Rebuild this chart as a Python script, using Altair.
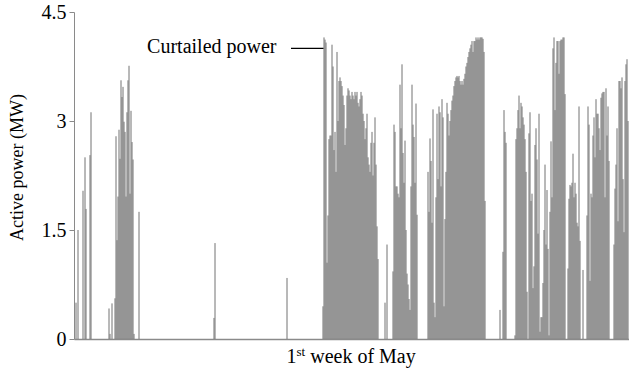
import altair as alt
import pandas as pd

# ---- data: active power readings (MW) over the 1st week of May ----
# each run of readings starts at a time-step index; zero = no production
run_starts = [2, 35, 140, 213, 249, 311, 319, 354, 426, 441, 494, 540]

run_a = [0.5, 0, 1.5, 0, 0, 0, 0, 2.04, 0, 2.5, 1.79, 0, 0, 0, 2.53, 3.12]
run_b = [0.42, 0.07, 0, 0.49, 0, 0, 0.56, 2.79, 1.36, 1.96, 2.88, 2.48, 3.56, 3.33,
         3.47, 2.99, 2.85, 1.96, 3.12, 3.56, 3.76, 2.0, 3.14, 2.71, 2.47, 0.07,
         0, 0, 0, 0, 1.75]
run_c = [0.29, 1.32]
run_d = [0.84]
run_e = [0.45, 4.15, 4.12, 4.08, 1.05, 1.7, 2.75, 2.8, 2.8, 4.05, 3.75, 2.6, 2.85,
         2.3, 3.95, 3.0, 3.55, 3.6, 3.55, 3.48, 3.35, 3.22, 2.67, 2.9, 3.35, 3.45,
         3.42, 3.35, 3.3, 3.4, 3.35, 3.3, 3.4, 3.35, 3.4, 3.25, 3.2, 3.3, 3.4, 3.35,
         3.1, 3.0, 2.75, 2.9, 3.1, 2.5, 2.4, 2.3, 2.7, 2.85, 2.25, 2.7, 3.05, 2.4,
         1.55, 1.1]
run_f = [0.5, 0, 1.3]
run_g = [0.93, 2.95, 2.85, 2.1, 2.1, 2.0, 1.95, 3.5, 2.9, 3.78, 2.56, 2.15, 2.73,
         1.5, 0.9, 0.75, 0.55, 0.4, 2.1, 3.5, 2.95, 2.78, 2.15, 3.24, 1.71]
run_h = [2.3, 1.75, 2.76, 2.45, 1.6, 3.16, 0.5, 0.3, 1.95, 3.1, 2.2, 3.2, 3.12, 2.1,
         3.3, 3.05, 0.45, 1.65, 2.3, 3.25, 3.1, 2.8, 3.0, 3.15, 3.28, 3.35, 3.48,
         3.55, 3.6, 3.62, 3.6, 3.62, 3.55, 3.5, 3.55, 3.5, 3.58, 3.65, 3.75, 3.8,
         3.88, 3.95, 4.0, 4.05, 4.1, 3.95, 4.1, 4.1, 4.15, 4.12, 4.15, 4.12, 4.15,
         4.15, 4.15, 4.13, 3.95, 1.9]
run_i = [0.4, 0, 0, 1.2, 3.15, 2.85, 2.7]
run_j = [0.05, 2.75, 2.9, 3.15, 3.35, 2.9, 3.25, 3.2, 3.05, 2.95, 2.75, 2.3, 0.65, 0,
         2.83, 3.12, 1.9, 2.0, 0.7, 1.0, 2.67, 2.9, 2.47, 1.45, 3.1, 0.1, 0.3, 0.3,
         0.77, 1.5, 2.4, 1.3, 2.05, 1.24, 0.05, 1.75, 2.72, 1.95, 4.0, 4.15, 3.15,
         3.8, 4.1, 4.1, 3.65, 4.1, 4.12, 4.12, 4.15, 4.15, 3.37]
run_k = [0.97, 1.93, 2.12, 2.1, 2.15, 2.55, 1.95, 2.15, 2.0, 1.6, 1.55, 3.2, 1.35, 0,
         0, 0.95, 0, 0, 0, 1.7, 3.2, 2.95, 0.8, 2.0, 1.95, 2.8, 3.05, 2.5, 3.3, 3.1,
         3.1, 2.9, 2.6, 3.32, 3.38, 3.4, 3.4, 1.95, 3.45, 2.8, 3.2, 2.45]
run_l = [1.3, 2.07, 2.4, 2.9, 1.62, 3.55, 3.55, 3.45, 3.6, 2.2, 1.47, 3.55, 3.78,
         3.85, 3.0]

runs = [run_a, run_b, run_c, run_d, run_e, run_f, run_g, run_h, run_i, run_j,
        run_k, run_l]

y_ticks = [0, 1.5, 3, 4.5]
n_steps = 555

# annotation
ann_label = "Curtailed power"
ann_level = 4.0
ann_line_from = 217
ann_line_to = 249.5
ann_text_at = 202.5

rows = []
for start, vals in zip(run_starts, runs):
    for k, v in enumerate(vals):
        if v > 0:
            rows.append({"t": start + k, "p": v})
df = pd.DataFrame(rows)

W, H = 555, 327
FONT = "Liberation Serif"
GRAY = "#8a8a8a"

x_scale = alt.Scale(domain=[0, n_steps], nice=False, zero=False)
y_scale = alt.Scale(domain=[0, 4.5], nice=False)

bars = alt.Chart(df).mark_rule(color="#727272", strokeWidth=1).encode(
    x=alt.X("t:Q", scale=x_scale,
            axis=alt.Axis(title=None, labels=False, ticks=False, grid=False,
                          domainColor=GRAY, domainWidth=1.5)),
    y=alt.Y("p:Q", scale=y_scale,
            axis=alt.Axis(values=y_ticks, format="~g", grid=False,
                          tickSize=5, tickColor=GRAY, domainColor=GRAY,
                          domainWidth=1, labelFont=FONT, labelFontSize=20,
                          labelColor="black", labelPadding=3,
                          title="Active power (MW)", titleFont=FONT,
                          titleFontSize=18, titleFontWeight="normal",
                          titleColor="black", titleX=-57, titleY=155,
                          titleAlign="center", titleBaseline="middle")),
    y2=alt.datum(0),
)

ann_df = pd.DataFrame({"x0": [ann_line_from], "x1": [ann_line_to],
                       "y": [ann_level], "tx": [ann_text_at],
                       "label": [ann_label]})
ann_line = alt.Chart(ann_df).mark_rule(color="black", strokeWidth=1.3).encode(
    x=alt.X("x0:Q", scale=x_scale), x2="x1:Q", y=alt.Y("y:Q", scale=y_scale))
ann_text = alt.Chart(ann_df).mark_text(
    align="right", baseline="alphabetic", dy=5, font=FONT, fontSize=20,
    color="black").encode(x=alt.X("tx:Q", scale=x_scale),
                          y=alt.Y("y:Q", scale=y_scale), text="label:N")

# x-axis title "1st week of May" with superscript
title_df = pd.DataFrame({"a": ["1"], "b": ["st"], "c": ["week of May"]})
base_x = 212.5
base_y = H + 24
t1 = alt.Chart(title_df).mark_text(align="left", baseline="alphabetic",
                                   font=FONT, fontSize=20, color="black").encode(
    x=alt.value(base_x), y=alt.value(base_y), text="a:N")
t2 = alt.Chart(title_df).mark_text(align="left", baseline="alphabetic",
                                   font=FONT, fontSize=13, color="black").encode(
    x=alt.value(base_x + 10), y=alt.value(base_y - 7), text="b:N")
t3 = alt.Chart(title_df).mark_text(align="left", baseline="alphabetic",
                                   font=FONT, fontSize=20, color="black").encode(
    x=alt.value(base_x + 23.7), y=alt.value(base_y), text="c:N")

chart = alt.layer(bars, ann_line, ann_text, t1, t2, t3).properties(
    width=W, height=H,
    autosize=alt.AutoSizeParams(type="none"),
    padding={"left": 74, "top": 12, "right": 0, "bottom": 38},
    background="white",
).configure_view(stroke=None)

chart.save("out.html", embed_options={"renderer": "svg", "actions": False})
